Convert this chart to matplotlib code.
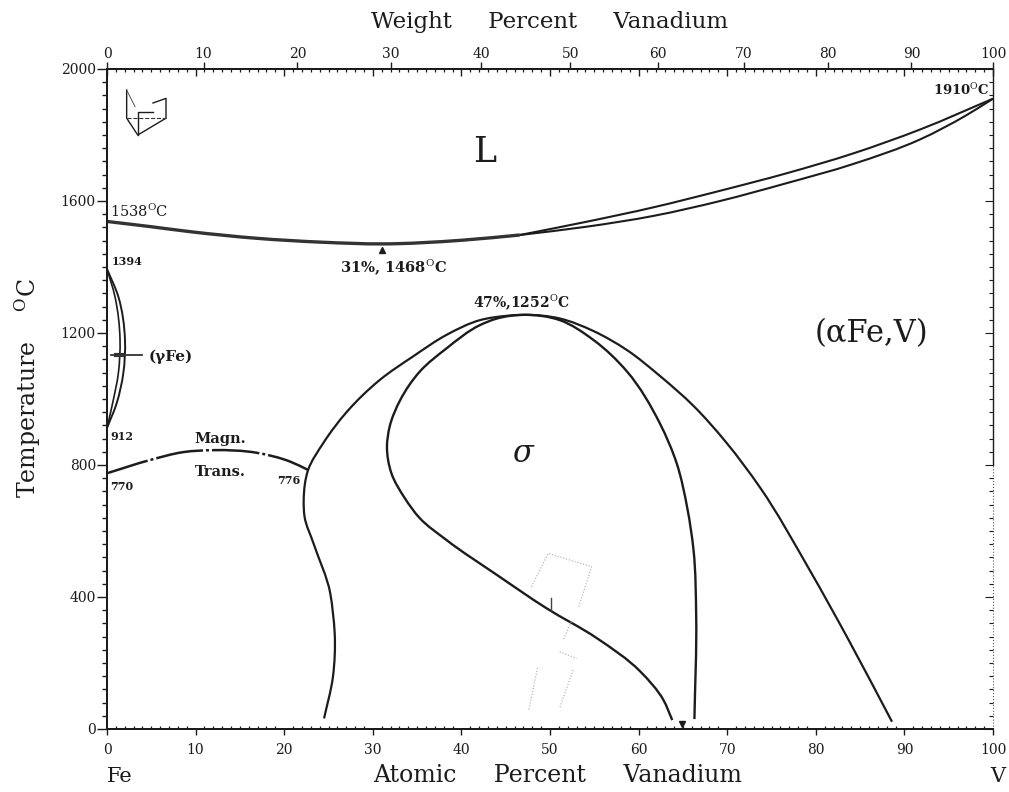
import numpy as np
import matplotlib
matplotlib.use("Agg")
import matplotlib.pyplot as plt
from matplotlib.path import Path
from matplotlib.patches import PathPatch

plt.rcParams['font.family'] = ['DejaVu Serif']
plt.rcParams['mathtext.fontset'] = 'dejavuserif'

# tick values
at_labels = [0, 10, 20, 30, 40, 50, 60, 70, 80, 90, 100]
wt_labels = [0, 10, 20, 30, 40, 50, 60, 70, 80, 90, 100]
wt_pos = [0, 10.9, 21.5, 32.0, 42.2, 52.3, 62.2, 71.9, 81.4, 90.8, 100]
temp_labels = [0, 400, 800, 1200, 1600, 2000]

# liquidus / solidus
liq_left_x = [0, 5, 9.4, 16.9, 24.4, 31, 40, 46.6]
liq_left_t = [1538, 1522, 1507, 1487, 1475, 1470, 1481, 1497]
liq_x = [46.6, 54.1, 61.7, 69.2, 76.7, 84.2, 91.8, 100]
liq_t = [1497, 1537, 1581, 1631, 1684, 1744, 1817, 1910]
sol_x = [46.6, 54.1, 61.7, 69.2, 76.7, 84.2, 91.8, 97, 100]
sol_t = [1497, 1522, 1555, 1600, 1654, 1712, 1787, 1860, 1910]

# gamma loop
gam_out_x = [0, 1.28, 2.03, 1.84, 1.1, 0]
gam_out_t = [1394, 1310, 1179, 1078, 988, 912]
gam_in_x = [0, 0.9, 1.47, 1.28, 0.64, 0]
gam_in_t = [1394, 1310, 1179, 1078, 988, 912]

# magnetic transition
mag_x = [0, 4.85, 8.6, 12, 16.9, 20.7, 22.7]
mag_t = [775, 815, 839, 845, 837, 810, 785]

# alpha / alpha+sigma boundary, low V side then high V side
alpha_x = [24.5, 25.5, 25.7, 25.5, 25.2, 23.3, 22.3, 22.2, 22.7, 24.4, 27.1, 30.8, 34.6, 38.3, 42.1, 45.1, 47,
           51.1, 54.9, 58.7, 62.4, 66.2, 69.9, 73.7, 79.3, 83.7, 88.6]
alpha_t = [32, 158, 290, 351, 411, 563, 643, 694, 785, 866, 962, 1058, 1130, 1194, 1239, 1252, 1255,
           1244, 1206, 1148, 1070, 979, 868, 732, 482, 270, 22]
# sigma boundary, from the bottom on the low V side, over the peak, down the high V side
sigma_x = [63.8, 62.8, 60.2, 55.3, 49.6, 44, 38.3, 35.3, 33.6, 32.1, 31.6, 31.9, 33.1, 35.3, 38.3, 42.1, 43.9, 47,
           51.1, 54.9, 58.7, 62.4, 64.3, 65.5, 66.2, 66.5, 66.3]
sigma_t = [27, 88, 174, 275, 366, 467, 573, 639, 700, 775, 855, 916, 997, 1083, 1153, 1224, 1243, 1255,
           1239, 1179, 1083, 926, 805, 669, 542, 340, 30]

# little sketch at top left
icon_x = [2.22, 2.22, 3.47, 6.66, 6.66, 5.19]
icon_t = [1936, 1851, 1800, 1851, 1911, 1897]
icon2_x = [3.47, 3.47, 5.19]
icon2_t = [1800, 1871, 1871]
icon3_x = [2.22, 3.16]
icon3_t = [1936, 1886]
icon4_x = [2.22, 6.66]
icon4_t = [1851, 1851]

# faint stamp showing through the paper
ghost_x = [[47.9, 49.8, 54.7, 53.2], [52.4, 51.5], [51.1, 53], [48.6, 47.6], [52.6, 51.1]]
ghost_t = [[431, 532, 492, 366], [325, 270], [234, 214], [185, 58], [179, 64]]

fig = plt.figure(figsize=(10.09, 7.92), dpi=100)
ax = fig.add_axes([107 / 1009, 63 / 792, 886 / 1009, 660 / 792])
ax.set_xlim(0, 100)
ax.set_ylim(0, 2000)

ink = '#1c1c1c'
lw = 1.6


def curve(xs, ts, **kw):
    # bezier through the read points, so the boundaries do not look like polygons
    p = ax.transData.transform(np.column_stack([xs, ts]))
    n = len(p)
    d = np.linalg.norm(p[1:] - p[:-1], axis=1)
    tang = np.zeros_like(p)
    tang[0] = (p[1] - p[0]) / d[0]
    tang[-1] = (p[-1] - p[-2]) / d[-1]
    for i in range(1, n - 1):
        # tangent weighted towards the nearer neighbour
        tang[i] = (d[i] ** 2 * (p[i] - p[i - 1]) + d[i - 1] ** 2 * (p[i + 1] - p[i])) / (d[i - 1] * d[i] * (d[i - 1] + d[i]))
    verts = [p[0]]
    codes = [Path.MOVETO]
    for i in range(n - 1):
        verts += [p[i] + tang[i] * d[i] / 3, p[i + 1] - tang[i + 1] * d[i] / 3, p[i + 1]]
        codes += [Path.CURVE4] * 3
    ax.add_patch(PathPatch(Path(verts, codes), fill=False, transform=None, **kw))


curve(liq_left_x, liq_left_t, edgecolor='#333333', lw=2.4)
curve(liq_x, liq_t, edgecolor=ink, lw=1.5)
curve(sol_x, sol_t, edgecolor=ink, lw=1.5)
curve(gam_out_x, gam_out_t, edgecolor=ink, lw=1.4)
curve(gam_in_x, gam_in_t, edgecolor=ink, lw=1.2)
ax.plot([0.5, 4.0], [1133, 1133], color='#333333', lw=1.3)
ax.plot([1.0, 1.7], [1133, 1133], color='#333333', lw=3.0)
curve(mag_x, mag_t, edgecolor=ink, lw=1.8, linestyle=(2, (19, 1.2, 1.2, 1.2)))
curve(alpha_x, alpha_t, edgecolor=ink, lw=lw)
curve(sigma_x, sigma_t, edgecolor=ink, lw=lw + 0.1)

ax.plot(icon_x, icon_t, color=ink, lw=1.0)
ax.plot(icon2_x, icon2_t, color=ink, lw=1.0)
ax.plot(icon3_x, icon3_t, color='#555555', lw=0.7)
ax.plot(icon4_x, icon4_t, color='#333333', lw=0.8, linestyle='--')

for gx, gt in zip(ghost_x, ghost_t):
    ax.plot(gx, gt, color='#a8a8a8', lw=0.8, linestyle=':')
ax.plot([50.1, 50.1], [361, 397], color='#444444', lw=1.0)

ax.plot([31], [1452], marker='^', ms=5, color=ink, ls='none')
ax.plot([64.9], [15], marker='v', ms=5, color=ink, ls='none')

# ticks
ax.set_xticks(at_labels)
ax.set_xticklabels(at_labels, fontsize=10)
ax.set_xticks(np.arange(0, 101, 1), minor=True)
ax.set_yticks(temp_labels)
ax.set_yticklabels(temp_labels, fontsize=10)
ax.set_yticks(np.arange(0, 2001, 40), minor=True)
ax.tick_params(axis='x', which='major', direction='out', length=4, width=1.0, pad=6, colors=ink)
ax.tick_params(axis='x', which='minor', direction='in', length=2, width=0.9, colors=ink)
ax.tick_params(axis='y', which='major', direction='out', length=7, width=1.0, pad=1, colors=ink)
ax.tick_params(axis='y', which='minor', direction='out', length=3.5, width=1.0, colors=ink)

top_a = ax.twiny()
top_a.set_xlim(0, 100)
top_a.set_xticks(at_labels)
top_a.set_xticklabels([])
top_a.set_xticks(np.arange(0, 101, 1), minor=True)
top_a.tick_params(axis='x', which='major', direction='in', length=5, width=1.0, colors=ink)
top_a.tick_params(axis='x', which='minor', direction='in', length=2.5, width=0.9, colors=ink)

top_w = ax.twiny()
top_w.set_xlim(0, 100)
top_w.set_xticks(wt_pos)
top_w.set_xticklabels(wt_labels, fontsize=10)
top_w.tick_params(axis='x', which='major', direction='out', length=5, width=1.0, pad=0.5, colors=ink)

right = ax.twinx()
right.set_ylim(0, 2000)
right.set_yticks(temp_labels)
right.set_yticklabels([])
right.set_yticks(np.arange(0, 2001, 40), minor=True)
right.tick_params(axis='y', which='major', direction='in', length=6, width=0.8, colors=ink)
right.tick_params(axis='y', which='minor', direction='in', length=3, width=0.8, colors=ink)

for a in (ax, top_a, top_w, right):
    for s in a.spines.values():
        s.set_linewidth(1.3)
        s.set_color(ink)
    a.spines['right'].set_visible(False)
ax.plot([100, 100], [800, 2000], color=ink, lw=1.0, clip_on=False)
ax.plot([100, 100], [0, 800], color='#555555', lw=0.8, linestyle=':', clip_on=False)

# axis titles, the original is widely tracked so the word gaps are wide too
fig.text(550 / 1009, 1 - 22 / 792, 'Weight     Percent     Vanadium', fontsize=16.5, ha='center', va='center', color=ink)
fig.text(558 / 1009, 1 - 775 / 792, 'Atomic     Percent     Vanadium', fontsize=17, ha='center', va='center', color=ink)
fig.text(28 / 1009, 1 - 388 / 792, 'Temperature    $^{\\mathrm{O}}$C', fontsize=17, rotation=90, ha='center', va='center', color=ink)
fig.text(107 / 1009, 1 - 782 / 792, 'Fe', fontsize=15, ha='left', va='baseline', color=ink)
fig.text(990 / 1009, 1 - 782 / 792, 'V', fontsize=15, ha='left', va='baseline', color=ink)

# labels inside the plot
ax.text(41.3, 1718, 'L', fontsize=25, color=ink)
ax.text(79.9, 1174, '(\u03b1Fe,V)', fontsize=22, color=ink)
ax.text(45.7, 810, '$\\sigma$', fontsize=22, color=ink)
ax.text(0.3, 1552, '1538$^{\\mathrm{O}}$C', fontsize=10.5, color=ink)
ax.text(99.6, 1921, '1910$^{\\mathrm{O}}$C', fontsize=9.5, ha='right', weight='bold', color=ink)
ax.text(26.3, 1383, '31%, 1468$^{\\mathrm{O}}$C', fontsize=10.5, weight='bold', color=ink)
ax.text(41.3, 1278, '47%,1252$^{\\mathrm{O}}$C', fontsize=10, weight='bold', color=ink)
ax.text(0.5, 1406, '1394', fontsize=8, weight='bold', color=ink)
ax.text(0.4, 876, '912', fontsize=8, weight='bold', color=ink)
ax.text(0.4, 724, '770', fontsize=8, weight='bold', color=ink)
ax.text(19.2, 741, '776', fontsize=8, weight='bold', color=ink)
ax.text(9.9, 866, 'Magn.', fontsize=10.5, weight='bold', color=ink)
ax.text(9.9, 767, 'Trans.', fontsize=10.5, weight='bold', color=ink)
ax.text(4.75, 1116, '(\u03b3Fe)', fontsize=11, weight='bold', color=ink)

fig.savefig('out.png', dpi=100)
